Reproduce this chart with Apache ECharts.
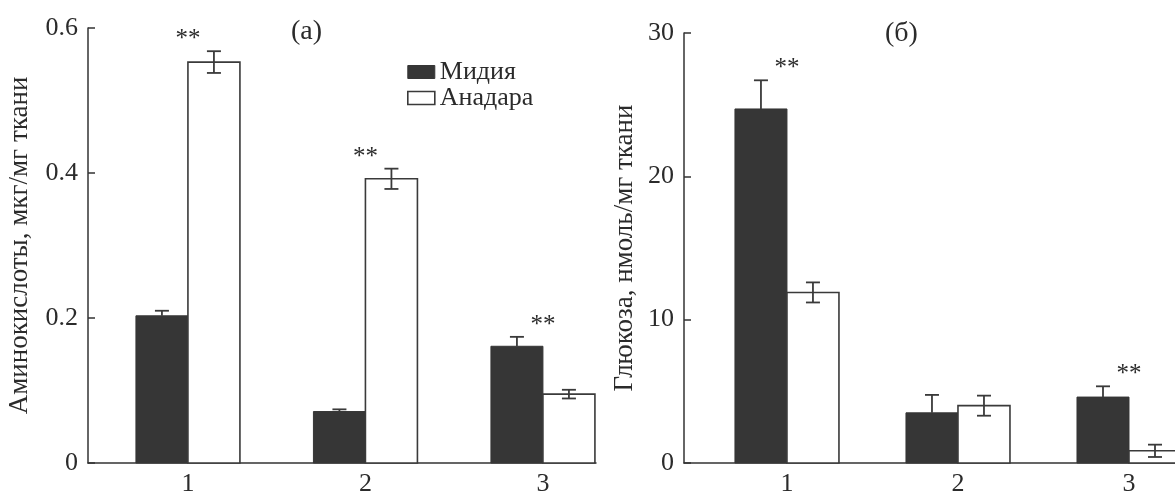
<!DOCTYPE html>
<html>
<head>
<meta charset="utf-8">
<script src="https://cdn.jsdelivr.net/npm/echarts@6/dist/echarts.min.js"></script>
<style>
  html, body { margin: 0; padding: 0; background: #fff; }
  #chart { width: 1175px; height: 495px; }
</style>
</head>
<body>
<div id="chart"></div>
<script>
// groups on the x axis
var groups = [1, 2, 3];

// (а) amino acids, ug/mg tissue
var musselAmino = [0.203, 0.071, 0.161];
var musselAminoErr = [0.007, 0.003, 0.013];
var anadaraAmino = [0.553, 0.392, 0.095];
var anadaraAminoErr = [0.015, 0.014, 0.006];
var signifAmino = [true, true, true];

// (б) glucose, nmol/mg tissue
var musselGlu = [24.7, 3.5, 4.6];
var musselGluErr = [2.0, 1.25, 0.75];
var anadaraGlu = [11.9, 4.0, 0.85];
var anadaraGluErr = [0.7, 0.7, 0.43];
var signifGlu = [true, false, true];

var yTicksAmino = [0, 0.2, 0.4, 0.6];
var yTicksGlu = [0, 10, 20, 30];

var FONT = "'Liberation Serif', 'DejaVu Serif', serif";
var INK = '#2b2b2b';
var DARK = '#363636';
var BAR_W = 52;

function pairs(vals, errs) {
  return groups.map(function (g, i) { return [g, vals[i], errs[i]]; });
}

function starData(a, ae, b, be, sig) {
  var out = [];
  groups.forEach(function (g, i) {
    if (sig[i]) out.push([g, Math.max(a[i] + ae[i], b[i] + be[i])]);
  });
  return out;
}

// side: -1 = bar left of the group centre, 1 = right
function barRender(side, fill) {
  return function (params, api) {
    var top = api.coord([api.value(0), api.value(1)]);
    var base = api.coord([api.value(0), 0]);
    var x0 = side < 0 ? top[0] - BAR_W : top[0];
    return {
      type: 'rect',
      shape: { x: x0, y: top[1], width: BAR_W, height: base[1] - top[1] },
      style: fill
        ? { fill: DARK, stroke: DARK, lineWidth: 1 }
        : { fill: '#fff', stroke: '#3a3a3a', lineWidth: 1.6 }
    };
  };
}

// dark bars hide the lower half of their error bar, so only draw the upper one
function errRender(side, upperOnly) {
  return function (params, api) {
    var v = api.value(1), e = api.value(2);
    var hi = api.coord([api.value(0), v + e]);
    var lo = api.coord([api.value(0), upperOnly ? v : v - e]);
    var cx = hi[0] + side * BAR_W / 2;
    var st = { stroke: '#3a3a3a', lineWidth: 1.8 };
    var kids = [
      { type: 'line', shape: { x1: cx, y1: hi[1], x2: cx, y2: lo[1] }, style: st },
      { type: 'line', shape: { x1: cx - 7, y1: hi[1], x2: cx + 7, y2: hi[1] }, style: st }
    ];
    if (!upperOnly) {
      kids.push({ type: 'line', shape: { x1: cx - 7, y1: lo[1], x2: cx + 7, y2: lo[1] }, style: st });
    }
    return { type: 'group', children: kids };
  };
}

function starRender(params, api) {
  var p = api.coord([api.value(0), api.value(1)]);
  return {
    type: 'text',
    style: {
      x: p[0], y: p[1] + 1, text: '**', align: 'center', verticalAlign: 'bottom',
      fill: INK, font: '25px ' + FONT
    }
  };
}

function xAxisOf(idx, min, max) {
  return {
    gridIndex: idx, type: 'value', min: min, max: max,
    splitLine: { show: false },
    axisTick: { show: false },
    axisLine: { lineStyle: { color: '#333', width: 1.5 } },
    axisLabel: { customValues: groups, margin: 8, color: INK, fontFamily: FONT, fontSize: 26 }
  };
}

function yAxisOf(idx, ticks, name, gap) {
  return {
    gridIndex: idx, type: 'value',
    min: ticks[0], max: ticks[ticks.length - 1], interval: ticks[1] - ticks[0],
    name: name, nameLocation: 'middle', nameRotate: 90, nameGap: gap,
    nameTextStyle: { color: INK, fontFamily: FONT, fontSize: 27 },
    splitLine: { show: false },
    axisLine: { show: true, lineStyle: { color: '#333', width: 1.5 } },
    axisTick: { show: true, inside: true, length: 7, lineStyle: { color: '#333', width: 1.5 } },
    axisLabel: { margin: 10, color: INK, fontFamily: FONT, fontSize: 26 }
  };
}

var option = {
  animation: false,
  backgroundColor: '#fff',
  title: [
    { text: '(а)', left: 286, top: 13, textStyle: { color: INK, fontFamily: FONT, fontSize: 28, fontWeight: 'normal' } },
    { text: '(б)', left: 880, top: 15, textStyle: { color: INK, fontFamily: FONT, fontSize: 28, fontWeight: 'normal' } }
  ],
  legend: {
    left: 402, top: 54, orient: 'vertical', itemGap: 0,
    itemWidth: 27, itemHeight: 13, selectedMode: false,
    textStyle: { color: INK, fontFamily: FONT, fontSize: 26 },
    data: [
      { name: 'Мидия', icon: 'rect', itemStyle: { color: DARK, borderColor: DARK, borderWidth: 1 } },
      { name: 'Анадара', icon: 'rect', itemStyle: { color: '#fff', borderColor: '#3a3a3a', borderWidth: 1.6 } }
    ]
  },
  grid: [
    { left: 88, top: 28, width: 508, height: 435, outerBoundsMode: 'none' },
    { left: 684, top: 33, width: 491, height: 430, outerBoundsMode: 'none' }
  ],
  xAxis: [xAxisOf(0, 0.437, 3.299), xAxisOf(1, 0.398, 3.269)],
  yAxis: [
    yAxisOf(0, yTicksAmino, 'Аминокислоты, мкг/мг ткани', 55),
    yAxisOf(1, yTicksGlu, 'Глюкоза, нмоль/мг ткани', 46)
  ],
  series: [
    { name: 'Мидия', type: 'custom', xAxisIndex: 0, yAxisIndex: 0, renderItem: barRender(-1, true),
      itemStyle: { color: DARK }, data: pairs(musselAmino, musselAminoErr) },
    { name: 'Анадара', type: 'custom', xAxisIndex: 0, yAxisIndex: 0, renderItem: barRender(1, false),
      itemStyle: { color: '#fff', borderColor: '#3a3a3a' }, data: pairs(anadaraAmino, anadaraAminoErr) },
    { type: 'custom', xAxisIndex: 0, yAxisIndex: 0, renderItem: errRender(-1, true), z: 3, data: pairs(musselAmino, musselAminoErr) },
    { type: 'custom', xAxisIndex: 0, yAxisIndex: 0, renderItem: errRender(1, false), z: 3, data: pairs(anadaraAmino, anadaraAminoErr) },
    { type: 'custom', xAxisIndex: 0, yAxisIndex: 0, renderItem: starRender, z: 3,
      data: starData(musselAmino, musselAminoErr, anadaraAmino, anadaraAminoErr, signifAmino) },

    { name: 'Мидия', type: 'custom', xAxisIndex: 1, yAxisIndex: 1, renderItem: barRender(-1, true),
      itemStyle: { color: DARK }, data: pairs(musselGlu, musselGluErr) },
    { name: 'Анадара', type: 'custom', xAxisIndex: 1, yAxisIndex: 1, renderItem: barRender(1, false),
      itemStyle: { color: '#fff', borderColor: '#3a3a3a' }, data: pairs(anadaraGlu, anadaraGluErr) },
    { type: 'custom', xAxisIndex: 1, yAxisIndex: 1, renderItem: errRender(-1, true), z: 3, data: pairs(musselGlu, musselGluErr) },
    { type: 'custom', xAxisIndex: 1, yAxisIndex: 1, renderItem: errRender(1, false), z: 3, data: pairs(anadaraGlu, anadaraGluErr) },
    { type: 'custom', xAxisIndex: 1, yAxisIndex: 1, renderItem: starRender, z: 3,
      data: starData(musselGlu, musselGluErr, anadaraGlu, anadaraGluErr, signifGlu) }
  ]
};

var chart = echarts.init(document.getElementById('chart'), null, { renderer: 'canvas' });
chart.setOption(option);
</script>
</body>
</html>
